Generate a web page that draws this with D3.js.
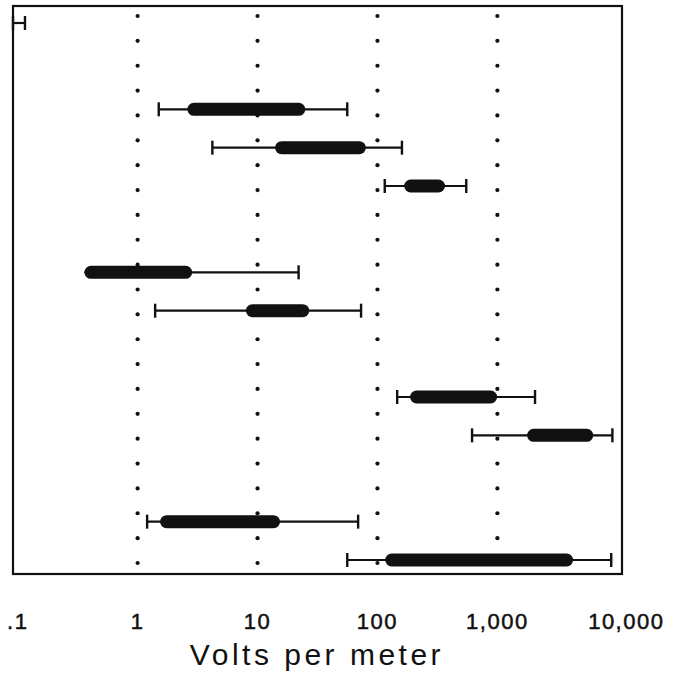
<!DOCTYPE html>
<html>
<head>
<meta charset="utf-8">
<script src="https://cdn.jsdelivr.net/npm/d3@7"></script>
<style>
  body { margin: 0; background: #fff; }
  text { font-family: "Liberation Sans", Arial, sans-serif; fill: #111; }
</style>
</head>
<body>
<svg width="684" height="685"></svg>
<script>
// Data (volts per meter)
var sources    = ["s1", "s2", "s3", "s4", "s5", "s6", "s7", "s8", "s9", "s10"];
var groups     = [0, 1, 1, 1, 2, 2, 3, 3, 4, 4];
var whiskerLow = [0.09, 1.5, 4.2, 115, 0.36, 1.4, 146, 615, 1.2, 56];
var boxLow     = [null, 2.6, 14, 167, 0.36, 8.0, 187, 1770, 1.54, 116];
var boxHigh    = [null, 25, 80, 366, 2.85, 27, 995, 6300, 15.4, 4280];
var whiskerHigh = [0.115, 56, 160, 550, 22, 73, 2060, 9100, 69, 8900];

var tickValues = [0.1, 1, 10, 100, 1000, 10000];
var tickLabels = [".1", "1", "10", "100", "1,000", "10,000"];
var gridValues = [1, 10, 100, 1000];
var axisTitle = "Volts per meter";

var rows = sources.map(function (s, i) {
  return { id: s, slot: i + 1.25 * groups[i], lo: whiskerLow[i], q1: boxLow[i], q3: boxHigh[i], hi: whiskerHigh[i] };
});

var svg = d3.select("svg");
var frame = { left: 13, top: 6, right: 622, bottom: 574 };

var x = d3.scaleLog().domain([0.1, 10000]).range([17.7, 617.3]);
var y = d3.scaleLinear().domain([0, 14]).range([23, 560]);
var dotY = d3.scaleLinear().domain([0, 22]).range([16, 563]);

// frame
svg.append("rect")
  .attr("x", frame.left).attr("y", frame.top)
  .attr("width", frame.right - frame.left).attr("height", frame.bottom - frame.top)
  .attr("fill", "none").attr("stroke", "#111").attr("stroke-width", 2.2);

// dotted grid columns
var dotRows = d3.range(23);
gridValues.forEach(function (v) {
  svg.append("g").selectAll("circle")
    .data(dotRows)
    .join("circle")
    .attr("cx", x(v))
    .attr("cy", function (d) { return dotY(d); })
    .attr("r", 2.1)
    .attr("fill", "#111");
});

// bars
var bar = svg.append("g").selectAll("g")
  .data(rows)
  .join("g")
  .attr("transform", function (d) { return "translate(0," + y(d.slot) + ")"; });

bar.append("line")
  .attr("x1", function (d) { return Math.max(x(d.lo), frame.left); })
  .attr("x2", function (d) { return x(d.hi); })
  .attr("stroke", "#111").attr("stroke-width", 2.2);

bar.filter(function (d) { return d.lo < (d.q1 || d.hi); })
  .append("line")
  .attr("x1", function (d) { return Math.max(x(d.lo), frame.left); })
  .attr("x2", function (d) { return Math.max(x(d.lo), frame.left); })
  .attr("y1", -7).attr("y2", 7)
  .attr("stroke", "#111").attr("stroke-width", 2.4);

bar.append("line")
  .attr("x1", function (d) { return x(d.hi); })
  .attr("x2", function (d) { return x(d.hi); })
  .attr("y1", -7).attr("y2", 7)
  .attr("stroke", "#111").attr("stroke-width", 2.4);

bar.filter(function (d) { return d.q1 != null; })
  .append("rect")
  .attr("x", function (d) { return x(d.q1); })
  .attr("y", -6.5)
  .attr("width", function (d) { return x(d.q3) - x(d.q1); })
  .attr("height", 13)
  .attr("rx", 6.5)
  .attr("fill", "#111");

// tick labels
svg.append("g").selectAll("text")
  .data(tickValues)
  .join("text")
  .attr("x", function (d, i) { return i === tickValues.length - 1 ? x(d) + 9 : x(d); })
  .attr("y", 629)
  .attr("text-anchor", "middle")
  .attr("font-size", 22)
  .attr("letter-spacing", 1.5)
  .attr("stroke", "#111")
  .attr("stroke-width", 0.5)
  .text(function (d, i) { return tickLabels[i]; });

svg.append("text")
  .attr("x", 317).attr("y", 665)
  .attr("text-anchor", "middle")
  .attr("font-size", 30)
  .attr("letter-spacing", 3.5)
  .text(axisTitle);
</script>
</body>
</html>
